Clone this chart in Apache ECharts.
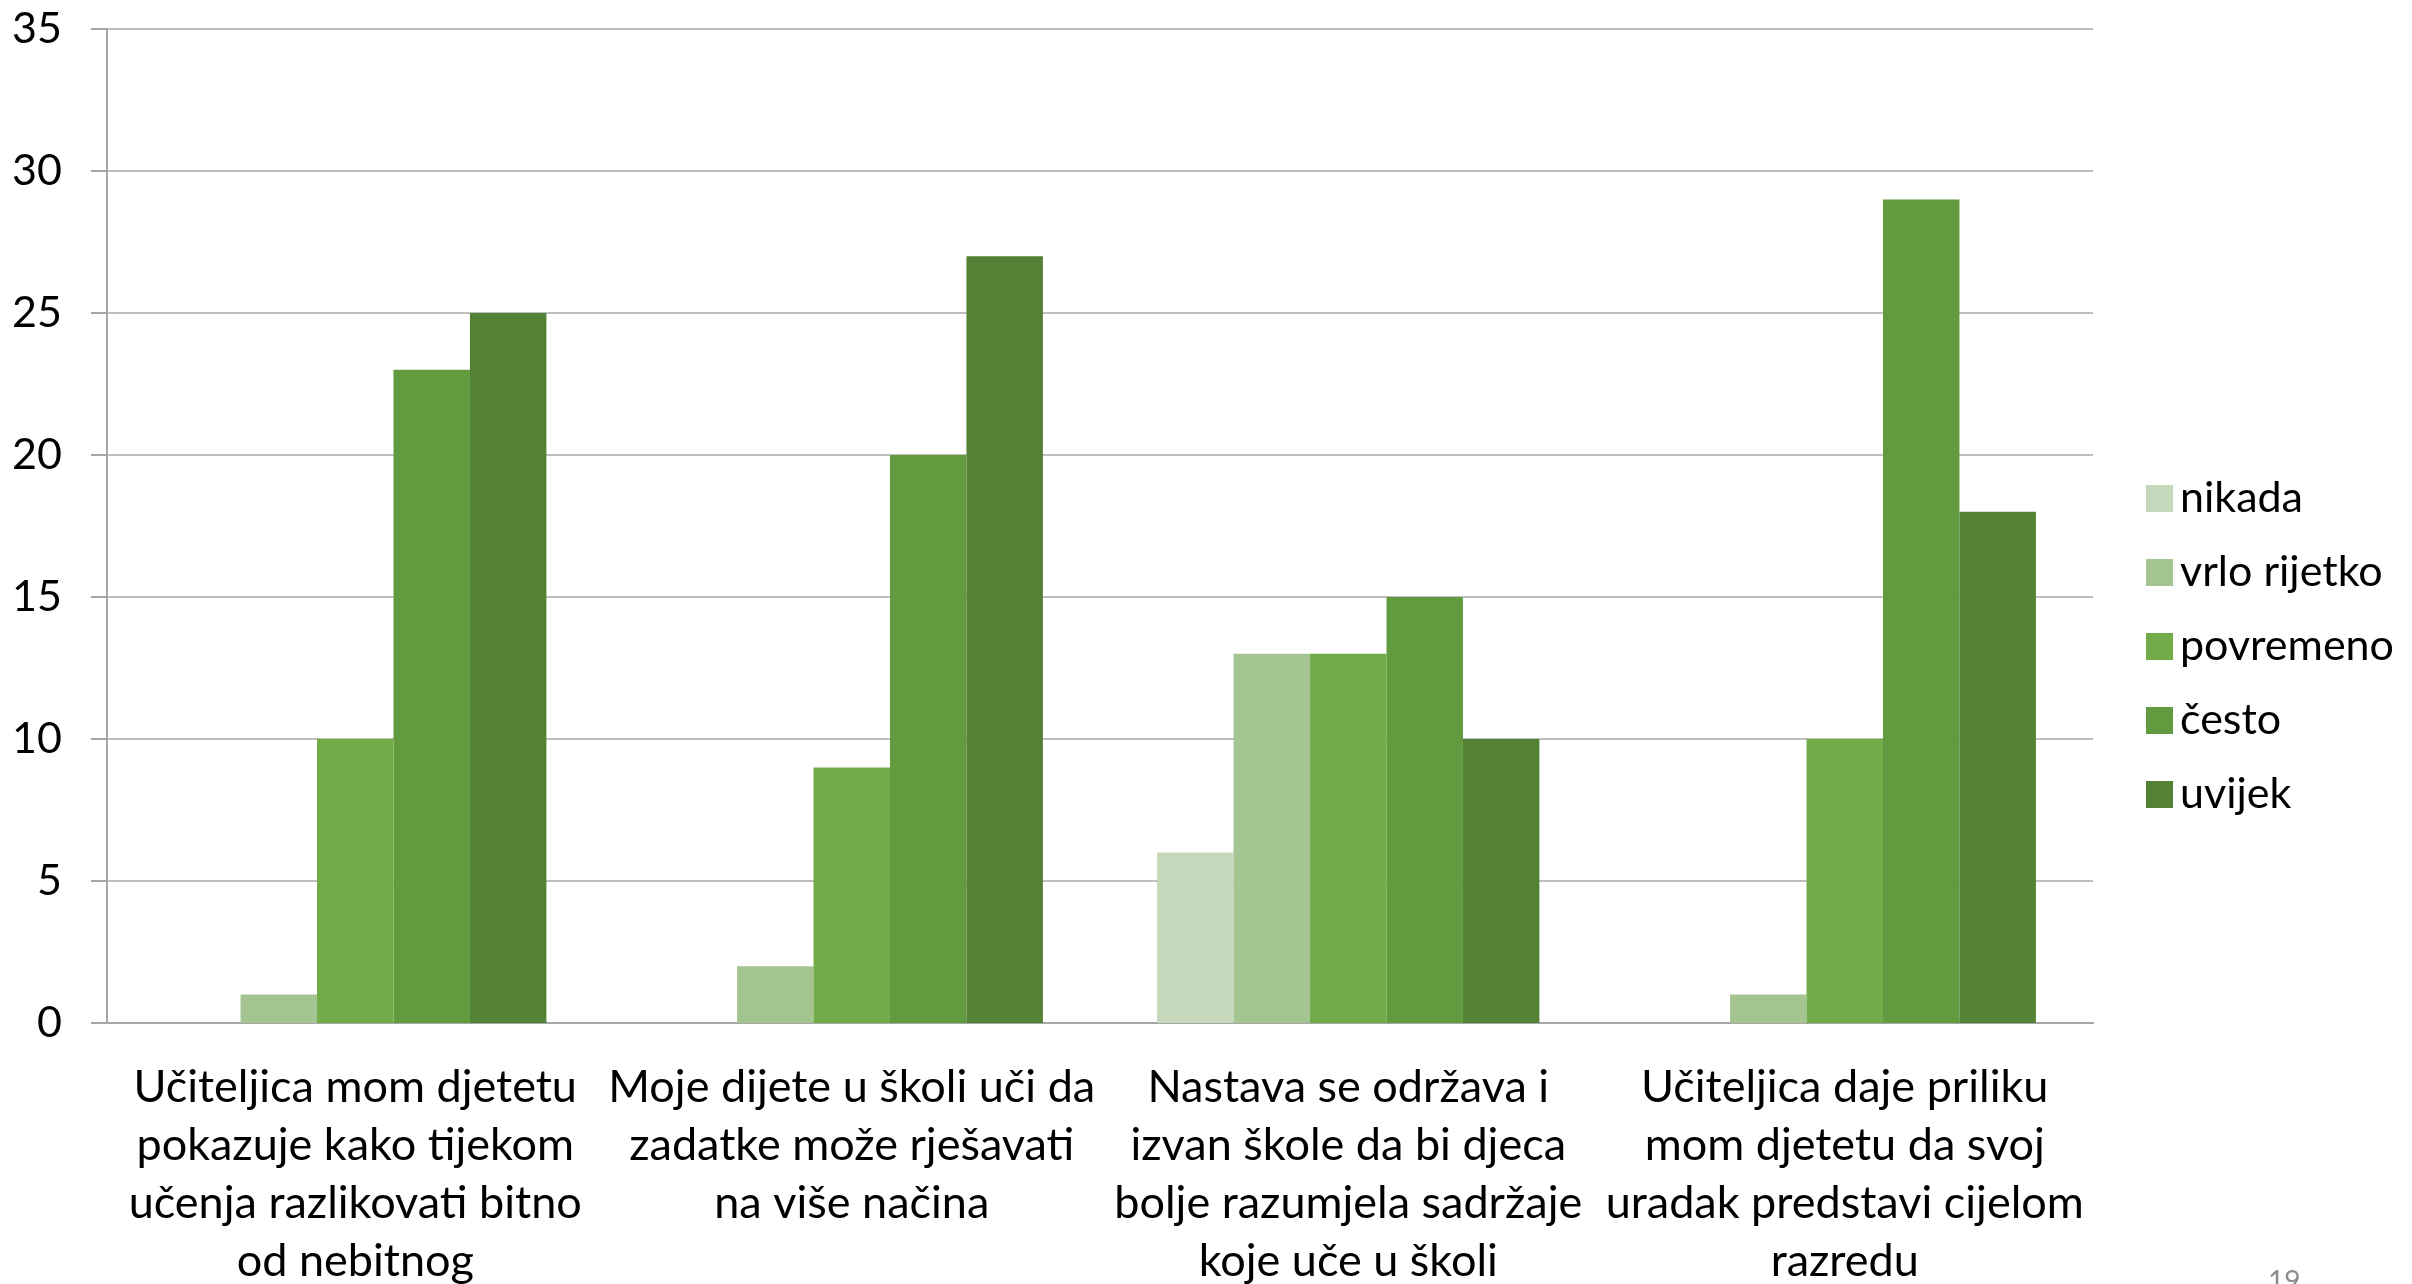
<!DOCTYPE html>
<html>
<head>
<meta charset="utf-8">
<script src="https://cdn.jsdelivr.net/npm/echarts@6/dist/echarts.min.js"></script>
<style>
  html, body { margin: 0; padding: 0; background: #fff; }
  #chart { width: 2412px; height: 1284px; }
</style>
</head>
<body>
<div id="chart"></div>
<script>
  // pitanja (kategorije)
  var categories = [
    'Učiteljica mom djetetu\npokazuje kako tijekom\nučenja razlikovati bitno\nod nebitnog',
    'Moje dijete u školi uči da\nzadatke može rješavati\nna više načina',
    'Nastava se održava i\nizvan škole da bi djeca\nbolje razumjela sadržaje\nkoje uče u školi',
    'Učiteljica daje priliku\nmom djetetu da svoj\nuradak predstavi cijelom\nrazredu'
  ]
  var seriesNames = ['nikada', 'vrlo rijetko', 'povremeno', 'često', 'uvijek']
  var nikada = [0, 0, 6, 0]
  var vrloRijetko = [1, 2, 13, 1]
  var povremeno = [10, 9, 13, 10]
  var cesto = [23, 20, 15, 29]
  var uvijek = [25, 27, 10, 18]
  var yTicks = [0, 5, 10, 15, 20, 25, 30, 35]

  var colors = ['#C5D8BC', '#A4C591', '#72AC48', '#629B3F', '#548235']
  var values = [nikada, vrloRijetko, povremeno, cesto, uvijek]

  var chart = echarts.init(document.getElementById('chart'))
  chart.setOption({
    animation: false,
    color: colors,
    grid: {
      left: 107,
      right: 319,
      top: 29,
      bottom: 261,
      containLabel: false,
      outerBoundsMode: 'none'
    },
    legend: {
      orient: 'vertical',
      left: 2141,
      top: 472,
      itemWidth: 27,
      itemHeight: 27,
      itemGap: 31,
      icon: 'rect',
      textStyle: {
        fontFamily: 'Lato',
        fontSize: 43,
        color: '#000',
        padding: [0, 0, 0, 2]
      },
      data: seriesNames
    },
    xAxis: {
      type: 'category',
      data: categories,
      axisLine: { lineStyle: { color: '#A6A6A6', width: 2 } },
      axisTick: { length: 15, lineStyle: { color: '#A6A6A6', width: 2 } },
      axisLabel: {
        interval: 0,
        margin: 35,
        color: '#000',
        fontFamily: 'Lato',
        fontSize: 45,
        lineHeight: 58
      }
    },
    yAxis: {
      type: 'value',
      min: yTicks[0],
      max: yTicks[yTicks.length - 1],
      interval: 5,
      axisLine: { show: true, lineStyle: { color: '#A6A6A6', width: 2 } },
      axisTick: { show: true, length: 16, lineStyle: { color: '#A6A6A6', width: 2 } },
      splitLine: { lineStyle: { color: '#BFBFBF', width: 2 } },
      axisLabel: {
        margin: 45,
        color: '#000',
        fontFamily: 'Lato',
        fontSize: 43
      }
    },
    series: seriesNames.map(function (name, i) {
      return {
        name: name,
        type: 'bar',
        data: values[i],
        barGap: '0%',
        barCategoryGap: '23%'
      }
    }),
    graphic: [{
      type: 'text',
      left: 2268,
      top: 1268,
      style: { text: '19', fontFamily: 'Lato', fontSize: 28, fill: '#8C8C8C' }
    }]
  })
</script>
</body>
</html>
